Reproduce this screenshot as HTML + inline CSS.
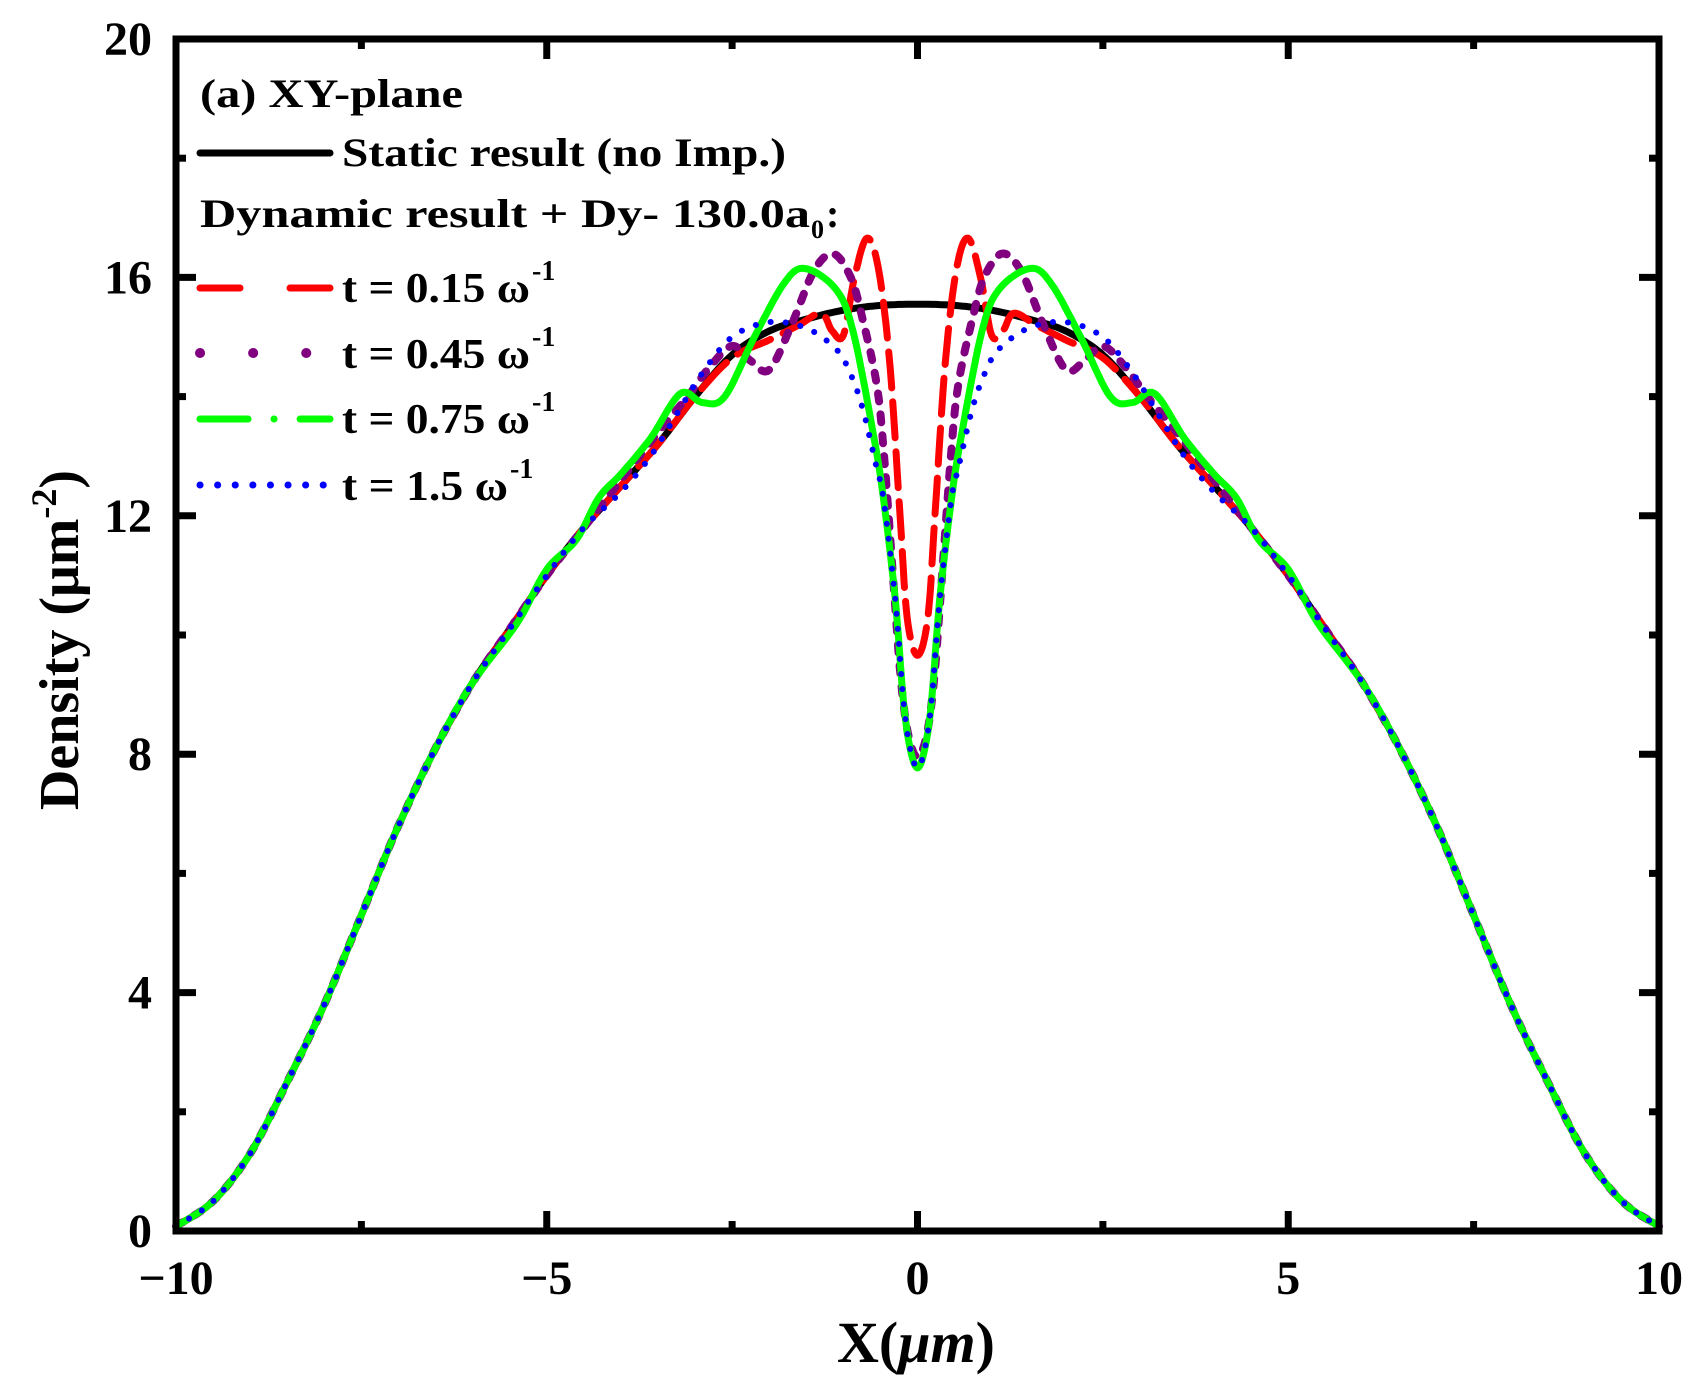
<!DOCTYPE html>
<html><head><meta charset="utf-8"><style>
html,body{margin:0;padding:0;background:#fff;width:1700px;height:1387px;overflow:hidden}
svg text{font-family:"Liberation Serif",serif;font-weight:bold;fill:#000}
</style></head><body>
<svg id="s" width="1700" height="1387" viewBox="0 0 1700 1387" xmlns="http://www.w3.org/2000/svg">
<g id="curves"></g>
<g id="axes"></g>
<text x="200" y="107" font-size="40" textLength="263" lengthAdjust="spacingAndGlyphs">(a) XY-plane</text>
<line x1="200" y1="153" x2="330" y2="153" stroke="#000" stroke-width="7" stroke-linecap="round"/>
<text x="342" y="166" font-size="40" textLength="444" lengthAdjust="spacingAndGlyphs">Static result (no Imp.)</text>
<text x="200" y="227" font-size="40" textLength="610" lengthAdjust="spacingAndGlyphs">Dynamic result + Dy- 130.0a</text>
<text x="811" y="238" font-size="26">0</text><text x="826" y="227" font-size="40">:</text>
<line x1="200" y1="288" x2="330" y2="288" stroke="#f00" stroke-width="7" stroke-linecap="round" stroke-dasharray="40 50"/>
<text x="342" y="302" font-size="42" textLength="188" lengthAdjust="spacingAndGlyphs">t = 0.15 ω</text><text x="532" y="280" font-size="28">-1</text>
<line x1="200" y1="353" x2="320" y2="353" stroke="#800080" stroke-width="10" stroke-linecap="round" stroke-dasharray="0.1 53"/>
<text x="342" y="368" font-size="42" textLength="188" lengthAdjust="spacingAndGlyphs">t = 0.45 ω</text><text x="532" y="346" font-size="28">-1</text>
<line x1="200" y1="419" x2="330" y2="419" stroke="#0f0" stroke-width="7" stroke-linecap="round" stroke-dasharray="48 26 0.1 26"/>
<text x="342" y="433" font-size="42" textLength="188" lengthAdjust="spacingAndGlyphs">t = 0.75 ω</text><text x="532" y="411" font-size="28">-1</text>
<line x1="200" y1="485" x2="326" y2="485" stroke="#00f" stroke-width="7" stroke-linecap="round" stroke-dasharray="0.1 17.5"/>
<text x="342" y="500" font-size="42" textLength="166" lengthAdjust="spacingAndGlyphs">t = 1.5 ω</text><text x="510" y="478" font-size="28">-1</text>
<text x="916" y="1362" font-size="58" text-anchor="middle">X(<tspan font-style="italic">μm</tspan>)</text>
<text transform="translate(78,640) rotate(-90)" font-size="56" text-anchor="middle">Density (μm<tspan dy="-22" font-size="36">-2</tspan><tspan dy="22">)</tspan></text>
</svg>
<script>
const L=176,R=1659,T=39,B=1231;
const X=x=>L+(x+10)*(R-L)/20, Y=y=>B-y*(B-T)/20;
const base=[[0,15.55],[0.5,15.53],[1,15.45],[1.5,15.3],[2,15.1],[2.5,14.7],[3,14.0],[3.5,13.2],[4,12.5],[4.5,11.8],[5,11.0],[5.5,10.1],[6,9.2],[6.5,8.1],[7,6.8],[7.5,5.3],[8,3.8],[8.5,2.5],[9,1.3],[9.5,0.5],[10,0.08]];
function merge(pts){const last=pts[pts.length-1][0];return pts.concat(base.filter(p=>p[0]>last+0.2));}
function full(pts){const m=merge(pts);const neg=m.slice(1).map(p=>[-p[0],p[1]]).reverse();return neg.concat(m);}
function cr(pts){let d="";for(let i=0;i<pts.length-1;i++){const p0=pts[Math.max(0,i-1)],p1=pts[i],p2=pts[i+1],p3=pts[Math.min(pts.length-1,i+2)];
for(let k=0;k<10;k++){const t=k/10,t2=t*t,t3=t2*t;const f=(a,b,c,e)=>0.5*((2*b)+(-a+c)*t+(2*a-5*b+4*c-e)*t2+(-a+3*b-3*c+e)*t3);
const x=f(p0[0],p1[0],p2[0],p3[0]),y=f(p0[1],p1[1],p2[1],p3[1]);d+=(d?"L":"M")+X(x).toFixed(1)+" "+Y(y).toFixed(1);}}
const p=pts[pts.length-1];d+="L"+X(p[0]).toFixed(1)+" "+Y(p[1]).toFixed(1);return d;}
const series=[
 {c:"#000",w:7,da:"",p:[[0,15.55]]},
 {c:"#f00",w:7,da:"36 14",p:[[0,9.66],[0.14,10.3],[0.24,12.1],[0.37,14.5],[0.52,16.1],[0.68,16.66],[0.85,16.0],[1.0,15.03],[1.15,15.1],[1.3,15.4],[1.6,15.2],[2.0,14.95],[2.5,14.65],[3,14.0]]},
 {c:"#800080",w:8,da:"8 13",p:[[0,7.95],[0.12,8.3],[0.22,9.2],[0.32,10.8],[0.45,13.0],[0.55,14.2],[0.74,15.3],[0.9,16.0],[1.14,16.4],[1.4,16.1],[1.7,15.2],[2.0,14.45],[2.25,14.6],[2.5,14.85],[2.8,14.5],[3.1,14.0],[3.5,13.4],[4,12.6]]},
 {c:"#0f0",w:7,da:"",p:[[0,7.77],[0.1,8.1],[0.19,8.9],[0.3,10.6],[0.46,12.3],[0.6,13.4],[0.87,15.1],[1.1,15.8],[1.52,16.15],[1.8,15.9],[2.2,15.0],[2.6,14.0],[2.9,13.9],[3.2,14.05],[3.6,13.3],[4.0,12.7],[4.3,12.3],[4.6,11.6],[5.0,11.1],[5.4,10.2]]},
 {c:"#00f",w:6,da:"0.1 15",p:[[0,7.77],[0.1,8.1],[0.19,8.9],[0.3,10.6],[0.46,12.3],[0.55,12.8],[0.74,13.8],[0.91,14.4],[1.1,14.8],[1.5,15.15],[2.0,15.25],[2.5,15.0],[2.9,14.4],[3.2,13.8],[3.6,13.0],[4,12.4],[4.5,11.8]]}];
let h="";for(const s of series){h+=`<path d="${cr(full(s.p))}" fill="none" stroke="${s.c}" stroke-width="${s.w}" stroke-linecap="round" stroke-linejoin="round" ${s.da?`stroke-dasharray="${s.da}"`:""}/>`;}
document.getElementById("curves").innerHTML=h;
let a=`<rect x="${L}" y="${T}" width="${R-L}" height="${B-T}" fill="none" stroke="#000" stroke-width="7"/>`;
for(let v=-10;v<=10;v+=2.5){const x=X(v),len=(v%5===0)?20:10;a+=`<line x1="${x}" y1="${B}" x2="${x}" y2="${B-len}" stroke="#000" stroke-width="7"/><line x1="${x}" y1="${T}" x2="${x}" y2="${T+len}" stroke="#000" stroke-width="7"/>`;
if(v%5===0)a+=`<text x="${x}" y="1294" font-size="48" text-anchor="middle">${v<0?"−"+(-v):v}</text>`;}
for(let v=0;v<=20;v+=2){const y=Y(v),len=(v%4===0)?20:10;a+=`<line x1="${L}" y1="${y}" x2="${L+len}" y2="${y}" stroke="#000" stroke-width="7"/><line x1="${R}" y1="${y}" x2="${R-len}" y2="${y}" stroke="#000" stroke-width="7"/>`;
if(v%4===0)a+=`<text x="152" y="${y+16}" font-size="48" text-anchor="end">${v}</text>`;}
document.getElementById("axes").innerHTML=a;
</script>
</body></html>
